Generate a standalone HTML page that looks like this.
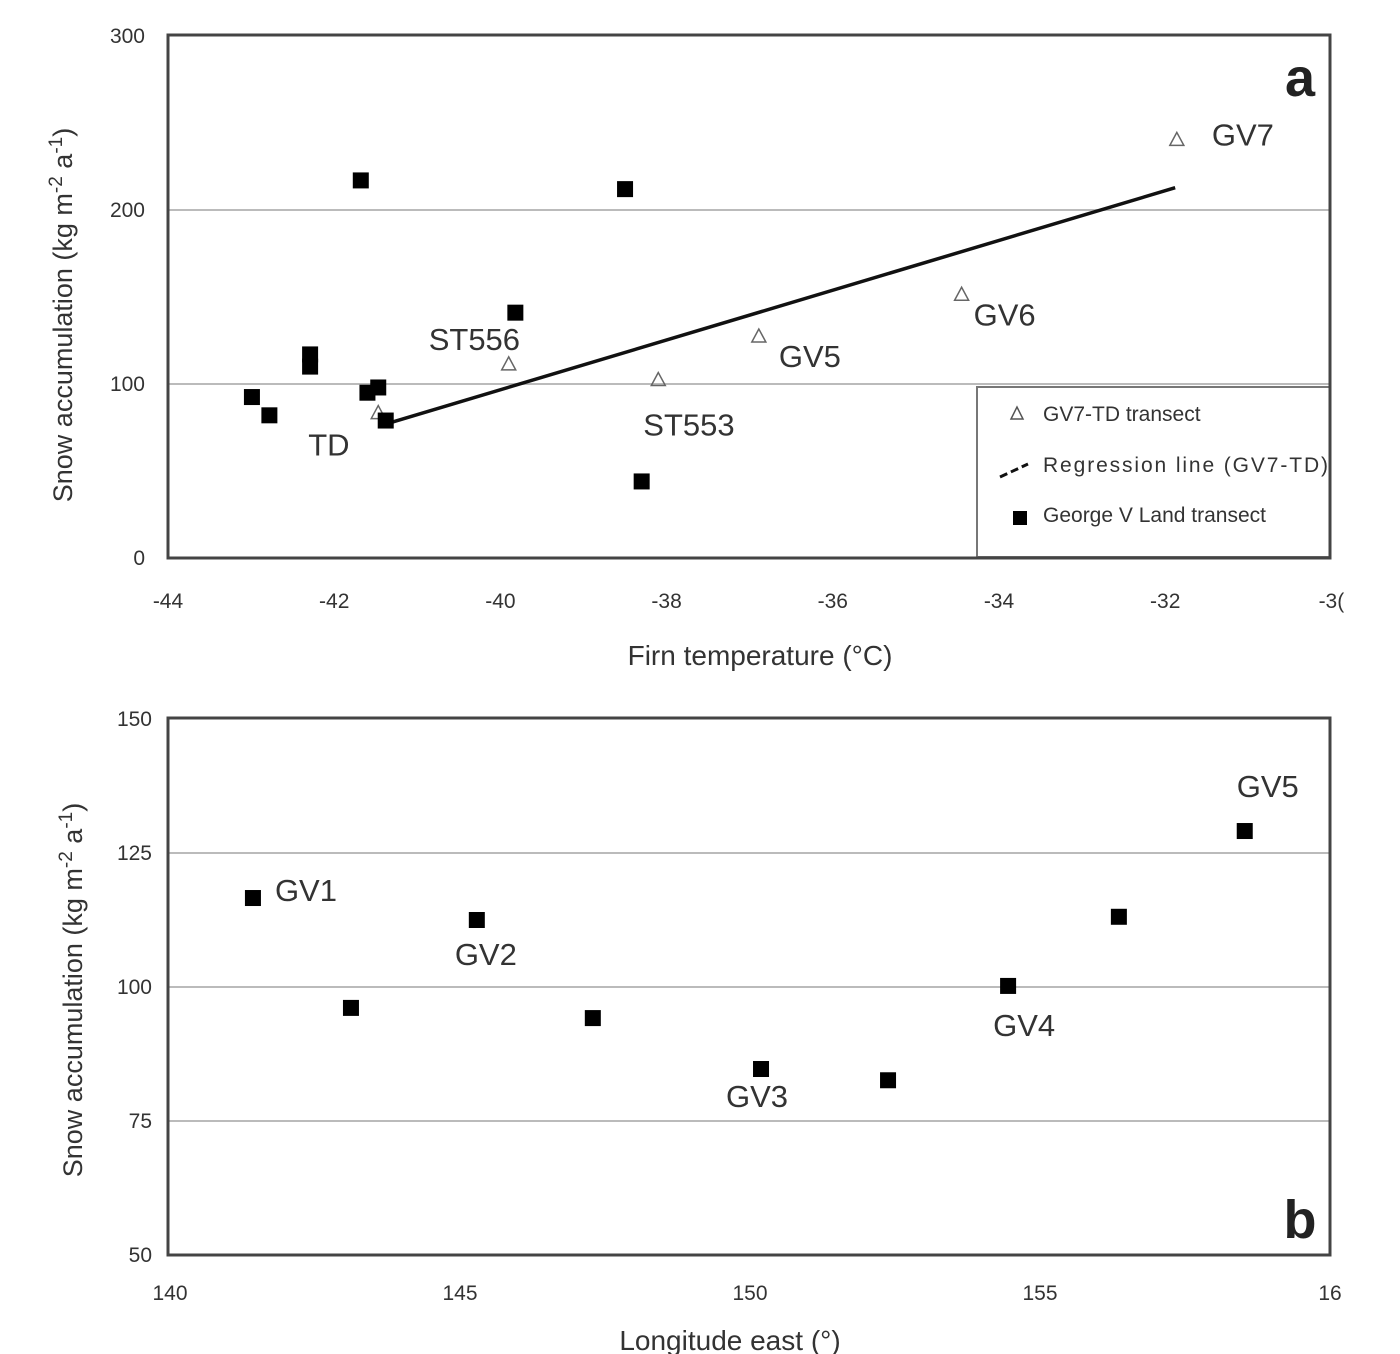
<!DOCTYPE html>
<html><head><meta charset="utf-8"><style>
html,body{margin:0;padding:0;background:#fff;}
svg{display:block;font-family:"Liberation Sans",sans-serif;}
</style></head><body>
<svg id="c" width="1400" height="1354" viewBox="0 0 1400 1354"></svg>
<script>
// Panel a data
const aXTicks=[-44,-42,-40,-38,-36,-34,-32,-30];
const aXTickLabels=["-44","-42","-40","-38","-36","-34","-32","-3("];
const aYTicks=[0,100,200,300];
const gvlX=[-42.99,-42.78,-42.29,-42.29,-41.68,-41.6,-41.47,-41.38,-39.82,-38.5,-38.3];
const gvlY=[92.5,82,117,110,217,95,98,79,141,212,44];
const triX=[-41.47,-39.9,-38.1,-36.89,-34.45,-31.86];
const triY=[83,111,102,127,151,240];
const triLabels=["TD","ST556","ST553","GV5","GV6","GV7"];
const regXRange=[-41.38,-31.88];
const regCoef=[14.3,668.7]; // slope, intercept
// Panel b data
const bXTicks=[140,145,150,155,160];
const bXTickLabels=["140","145","150","155","16"];
const bYTicks=[50,75,100,125,150];
const bX=[141.43,143.12,145.29,147.29,150.19,152.38,154.45,156.36,158.53];
const bY=[116.6,96.1,112.5,94.2,84.7,82.6,100.2,113.1,129.1];
const bLabels=["GV1","","GV2","","GV3","","GV4","","GV5"];

const NS="http://www.w3.org/2000/svg";
const svg=document.getElementById('c');
function el(t,a,txt){const e=document.createElementNS(NS,t);for(const k in a)e.setAttribute(k,a[k]);if(txt!==undefined)e.textContent=txt;svg.appendChild(e);return e;}

// axis functions
const ax=v=>168+(v+44)*83.1, ay=v=>558-v*1.74;
const bx=v=>170+(v-140)*58.0, by=v=>1255-(v-50)*5.36;

// Panel a grid
aYTicks.forEach(t=>{
 if(t>0&&t<300){const g=el('line',{x1:168,x2:1330,y1:ay(t),y2:ay(t),stroke:'#bbb','stroke-width':2});
 
 }
 const l=el('text',{x:145,y:ay(t)+7,'text-anchor':'end','font-size':21,fill:'#333'},String(t));
 
 
});
aXTicks.forEach((t,i)=>{
 const l=el('text',{x:ax(t),y:608,'text-anchor':'middle','font-size':21,fill:'#333'},aXTickLabels[i]);
 
 
});
// legend box
const lb=el('rect',{x:977,y:387,width:353,height:170,fill:'#fff',stroke:'#777','stroke-width':2});


// frame a
const fa=el('rect',{x:168,y:35,width:1162,height:523,fill:'none',stroke:'#444','stroke-width':3});


// regression
const rl=el('line',{x1:ax(regXRange[0]),y1:ay(regCoef[0]*regXRange[0]+regCoef[1]),x2:ax(regXRange[1]),y2:ay(regCoef[0]*regXRange[1]+regCoef[1]),stroke:'#111','stroke-width':3.5});


// triangles
const triOff=[[-70,42],[-80,-15],[-15,55],[20,30],[12,30],[35,5]];
triX.forEach((x,i)=>{
 const cx=ax(x),cy=ay(triY[i]);
 const p=el('polygon',{points:`${cx},${cy-8} ${cx-7},${cy+5} ${cx+7},${cy+5}`,fill:'none',stroke:'#666','stroke-width':1.5});
 
 
 const t=el('text',{x:cx+triOff[i][0],y:cy+triOff[i][1],'font-size':31,fill:'#333'},triLabels[i]);
 
 
});
gvlX.forEach((x,i)=>{
 const r=el('rect',{x:ax(x)-8,y:ay(gvlY[i])-8,width:16,height:16,fill:'#000'});
 
 
});
// legend entries
let e;
e=el('polygon',{points:'1017,407 1011,419 1023,419',fill:'none',stroke:'#555','stroke-width':1.5});

e=el('text',{x:1043,y:421,'font-size':21,fill:'#333'},'GV7-TD transect');

e=el('line',{x1:1000,y1:477,x2:1028,y2:464,stroke:'#111','stroke-width':3,'stroke-dasharray':'8,4'});

e=el('text',{x:1043,y:472,'font-size':21,fill:'#333',textLength:285},'Regression line (GV7-TD)');

e=el('rect',{x:1013,y:511,width:14,height:14,fill:'#000'});

e=el('text',{x:1043,y:522,'font-size':21,fill:'#333'},'George V Land transect');

// titles a
e=el('text',{x:1300,y:96,'font-size':54,'font-weight':'bold',fill:'#222','text-anchor':'middle'},'a');

e=el('text',{x:760,y:665,'font-size':28,fill:'#333','text-anchor':'middle'},'Firn temperature (°C)');

e=el('text',{x:0,y:0,'font-size':27,fill:'#333','text-anchor':'middle',transform:'translate(72,315) rotate(-90)'});
e.innerHTML='Snow accumulation (kg m<tspan dy="-10" font-size="19">-2</tspan><tspan dy="10"> a</tspan><tspan dy="-10" font-size="19">-1</tspan><tspan dy="10">)</tspan>';


// Panel b
bYTicks.forEach(t=>{
 if(t>50&&t<150){const g=el('line',{x1:168,x2:1330,y1:by(t),y2:by(t),stroke:'#bbb','stroke-width':2});
 
 }
 const l=el('text',{x:152,y:by(t)+7,'text-anchor':'end','font-size':21,fill:'#333'},String(t));
 
 
});
bXTicks.forEach((t,i)=>{
 const l=el('text',{x:bx(t),y:1300,'text-anchor':'middle','font-size':21,fill:'#333'},bXTickLabels[i]);
 
 
});
const fb=el('rect',{x:168,y:718,width:1162,height:537,fill:'none',stroke:'#444','stroke-width':3});


const bOff={GV1:[22,3],GV2:[-22,45],GV3:[-35,38],GV4:[-15,50],GV5:[-8,-34]};
bX.forEach((x,i)=>{
 const cx=bx(x),cy=by(bY[i]);
 const r=el('rect',{x:cx-8,y:cy-8,width:16,height:16,fill:'#000'});
 
 
 if(bLabels[i]){const o=bOff[bLabels[i]];
  const t=el('text',{x:cx+o[0],y:cy+o[1],'font-size':31,fill:'#333'},bLabels[i]);
  
  }
});
e=el('text',{x:1300,y:1238,'font-size':54,'font-weight':'bold',fill:'#222','text-anchor':'middle'},'b');

e=el('text',{x:730,y:1350,'font-size':28,fill:'#333','text-anchor':'middle'},'Longitude east (°)');

e=el('text',{x:0,y:0,'font-size':27,fill:'#333','text-anchor':'middle',transform:'translate(82,990) rotate(-90)'});
e.innerHTML='Snow accumulation (kg m<tspan dy="-10" font-size="19">-2</tspan><tspan dy="10"> a</tspan><tspan dy="-10" font-size="19">-1</tspan><tspan dy="10">)</tspan>';

</script>
</body></html>
